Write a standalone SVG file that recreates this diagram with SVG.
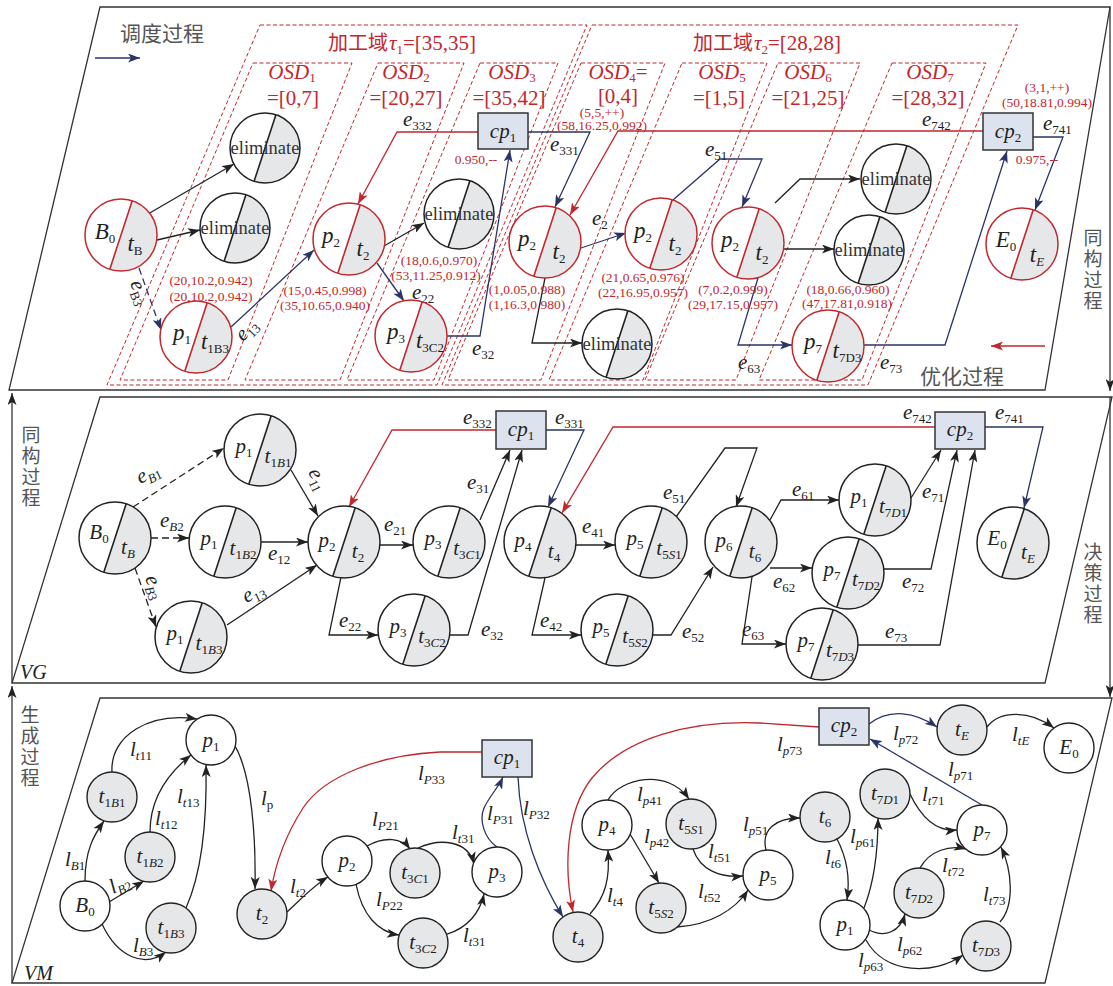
<svg xmlns="http://www.w3.org/2000/svg" width="1113" height="986" viewBox="0 0 1113 986">
<defs>
<style>
.s{font-family:"Liberation Serif","Times New Roman",serif}
.i{font-style:italic}
.cjk{font-family:"Noto Sans CJK SC","Noto Sans CJK JP",sans-serif;fill:#555;font-size:21px}
.cv{font-family:"Noto Sans CJK SC","Noto Sans CJK JP",sans-serif;fill:#555;font-size:19px;writing-mode:vertical-rl;letter-spacing:2px}
.cjkr{font-family:"Noto Sans CJK SC","Noto Sans CJK JP",sans-serif;fill:#c1272d;font-size:20px}
.frame{fill:none;stroke:#333;stroke-width:1.3}
.dash{fill:none;stroke:#c1272d;stroke-width:1;stroke-dasharray:4,2.5}
.k{fill:none;stroke:#222;stroke-width:1.3}
.nv{fill:none;stroke:#2b3467;stroke-width:1.3}
.rd{fill:none;stroke:#c1272d;stroke-width:1.3}
.cp{fill:#dce3ee;stroke:#333;stroke-width:1.5}
.bw{fill:#fff;stroke:#222;stroke-width:1.4}
.bg{fill:#e6e7e8;stroke:#222;stroke-width:1.4}
.rt{font-family:"Liberation Serif","Times New Roman",serif;fill:#c1272d;font-size:13.5px;text-anchor:middle}
.lb{font-family:"Liberation Serif","Times New Roman",serif;fill:#222;font-size:21px}
.nt{font-family:"Liberation Serif","Times New Roman",serif;fill:#222;font-size:21px;text-anchor:middle}
.nb{font-family:"Liberation Serif","Times New Roman",serif;fill:#222;font-size:23px;text-anchor:middle}
.sb{font-size:13px}
.el{font-family:"Liberation Serif","Times New Roman",serif;fill:#333;font-size:18.5px;text-anchor:middle}
.rl{font-family:"Liberation Serif","Times New Roman",serif;fill:#c1272d;font-size:21px;text-anchor:middle}
.dl{font-family:"Liberation Serif","Times New Roman",serif;fill:#c1272d;font-size:21px}
</style>
<marker id="ak" viewBox="0 0 12 9" refX="12" refY="4.5" markerWidth="12" markerHeight="9" markerUnits="userSpaceOnUse" orient="auto"><path d="M0,0 L12,4.5 L0,9 L3,4.5 Z" fill="#222"/></marker>
<marker id="an" viewBox="0 0 12 9" refX="12" refY="4.5" markerWidth="12" markerHeight="9" markerUnits="userSpaceOnUse" orient="auto"><path d="M0,0 L12,4.5 L0,9 L3,4.5 Z" fill="#2b3467"/></marker>
<marker id="ar" viewBox="0 0 12 9" refX="12" refY="4.5" markerWidth="12" markerHeight="9" markerUnits="userSpaceOnUse" orient="auto"><path d="M0,0 L12,4.5 L0,9 L3,4.5 Z" fill="#c1272d"/></marker>
<g id="sk"><circle r="36" fill="#fff"/><path d="M11.2,-34.2A36,36 0 0 1 -11.2,34.2Z" fill="#e6e7e8"/><line x1="11.2" y1="-34.2" x2="-11.2" y2="34.2" stroke="#222" stroke-width="1.6"/><circle r="36" fill="none" stroke="#222" stroke-width="1.5"/></g>
<g id="sr"><circle r="36" fill="#fff"/><path d="M11.2,-34.2A36,36 0 0 1 -11.2,34.2Z" fill="#e6e7e8"/><line x1="11.2" y1="-34.2" x2="-11.2" y2="34.2" stroke="#c1272d" stroke-width="1.6"/><circle r="36" fill="none" stroke="#c1272d" stroke-width="1.5"/></g>
<g id="se"><circle r="35" fill="#fff"/><path d="M10.9,-33.3A35,35 0 0 1 -10.9,33.3Z" fill="#e6e7e8"/><line x1="10.9" y1="-33.3" x2="-10.9" y2="33.3" stroke="#222" stroke-width="1.6"/><circle r="35" fill="none" stroke="#222" stroke-width="1.5"/></g>
</defs>
<rect width="1113" height="986" fill="#fff"/>

<g id="frames">
<path class="frame" d="M100,7 L1110,7 L1045,390 L9,390 Z"/>
<path class="frame" d="M100,397 L1112,397 L1045,683 L12,683 Z"/>
<path class="frame" d="M100,698 L1112,698 L1045,983 L12,983 Z"/>
<line class="frame" x1="12" y1="983" x2="12" y2="686" marker-end="url(#ak)"/>
<line class="frame" x1="12" y1="683" x2="12" y2="393" marker-end="url(#ak)"/>
<line class="frame" x1="1110" y1="7" x2="1110" y2="391" marker-end="url(#ak)"/>
<line class="frame" x1="1110" y1="397" x2="1110" y2="697" marker-end="url(#ak)"/>
</g>

<g id="titles">
<text class="cjk" x="120" y="41">调度过程</text>
<line x1="95" y1="58" x2="140" y2="58" stroke="#2b3467" stroke-width="1.5" marker-end="url(#an)"/>
<text class="cjk" x="920" y="384">优化过程</text>
<line x1="1045" y1="346" x2="991" y2="346" stroke="#c1272d" stroke-width="1.5" marker-end="url(#ar)"/>
<text class="cv" x="1093" y="228">同构过程</text>
<text class="cv" x="31" y="425">同构过程</text>
<text class="cv" x="1093" y="542">决策过程</text>
<text class="cv" x="30" y="705">生成过程</text>
<text class="s i" x="20" y="679" font-size="20" fill="#222">VG</text>
<text class="s i" x="24" y="980" font-size="20" fill="#222">VM</text>
</g>

<g id="domains">
<path class="dash" d="M260,25 L587,25 L437,385 L107,385 Z"/>
<path class="dash" d="M592,25 L1018,25 L868,385 L442,385 Z"/>
<path class="dash" d="M253,63 L352,63 L228,380 L120,380 Z"/>
<path class="dash" d="M378,63 L464,63 L340,380 L245,380 Z"/>
<path class="dash" d="M480,63 L558,63 L434,380 L347,380 Z"/>
<path class="dash" d="M581,63 L665,63 L541,380 L448,380 Z"/>
<path class="dash" d="M682,63 L767,63 L643,380 L549,380 Z"/>
<path class="dash" d="M778,63 L860,63 L736,380 L645,380 Z"/>
<path class="dash" d="M892,63 L986,63 L862,380 L759,380 Z"/>
<text class="cjkr" x="328" y="50">加工域</text>
<text class="dl" x="389" y="50"><tspan class="i">τ</tspan><tspan font-size="13" dy="4">1</tspan><tspan dy="-4">=[35,35]</tspan></text>
<text class="cjkr" x="693" y="50">加工域</text>
<text class="dl" x="754" y="50"><tspan class="i">τ</tspan><tspan font-size="13" dy="4">2</tspan><tspan dy="-4">=[28,28]</tspan></text>
<text class="rl" x="292" y="79"><tspan class="i">OSD</tspan><tspan class="sb" dy="3">1</tspan></text>
<text class="rl" x="293" y="105">=[0,7]</text>
<text class="rl" x="406" y="79"><tspan class="i">OSD</tspan><tspan class="sb" dy="3">2</tspan></text>
<text class="rl" x="406" y="105">=[20,27]</text>
<text class="rl" x="512" y="79"><tspan class="i">OSD</tspan><tspan class="sb" dy="3">3</tspan></text>
<text class="rl" x="509" y="105">=[35,42]</text>
<text class="rl" x="618" y="79"><tspan class="i">OSD</tspan><tspan class="sb" dy="3">4</tspan><tspan dy="-3">=</tspan></text>
<text class="rl" x="618" y="103">[0,4]</text>
<text class="rl" x="722" y="79"><tspan class="i">OSD</tspan><tspan class="sb" dy="3">5</tspan></text>
<text class="rl" x="719" y="105">=[1,5]</text>
<text class="rl" x="808" y="79"><tspan class="i">OSD</tspan><tspan class="sb" dy="3">6</tspan></text>
<text class="rl" x="808" y="105">=[21,25]</text>
<text class="rl" x="930" y="79"><tspan class="i">OSD</tspan><tspan class="sb" dy="3">7</tspan></text>
<text class="rl" x="928" y="105">=[28,32]</text>
</g>

<g id="top-edges">
<path class="k" d="M148,214 L234,164" marker-end="url(#ak)"/>
<path class="k" d="M157,240 L200,230" marker-end="url(#ak)"/>
<path class="nv" stroke-dasharray="7,4" d="M139,268 L161,330" marker-end="url(#an)"/>
<path class="nv" d="M231,327 L314,250" marker-end="url(#an)"/>
<path class="k" d="M384,246 L424,223" marker-end="url(#ak)"/>
<path class="nv" d="M377,263 L404,301" marker-end="url(#an)"/>
<path class="nv" d="M447,336 L480,336 L510,150" marker-end="url(#an)"/>
<path class="nv" d="M528,132 L590,132 L555,207" marker-end="url(#an)"/>
<path class="rd" d="M478,132 L397,132 L358,204" marker-end="url(#ar)"/>
<path class="rd" d="M983,131 L618,131 L570,215" marker-end="url(#ar)"/>
<path class="nv" d="M581,248 L626,233" marker-end="url(#an)"/>
<path class="k" d="M545,278 L532,343 L582,343" marker-end="url(#ak)"/>
<path class="nv" d="M673,200 L720,159 L762,159 L742,207" marker-end="url(#an)"/>
<path class="k" d="M775,203 L800,179 L860,179" marker-end="url(#ak)"/>
<path class="k" d="M783,249 L834,249" marker-end="url(#ak)"/>
<path class="nv" d="M758,278 L738,345 L792,345" marker-end="url(#an)"/>
<path class="nv" d="M863,345 L945,345 L1007,151" marker-end="url(#an)"/>
<path class="nv" d="M1033,137 L1063,137 L1035,210" marker-end="url(#an)"/>
<text class="lb" transform="rotate(70 130 283)" x="130" y="283"><tspan class="i">e</tspan><tspan class="sb" dy="4">B3</tspan></text>
<text class="lb" transform="rotate(-45 243 342)" x="243" y="342"><tspan class="i">e</tspan><tspan class="sb" dy="4">13</tspan></text>
<text class="lb" x="403" y="126"><tspan class="i">e</tspan><tspan class="sb" dy="4">332</tspan></text>
<text class="lb" x="412" y="299"><tspan class="i">e</tspan><tspan class="sb" dy="4">22</tspan></text>
<text class="lb" x="472" y="355"><tspan class="i">e</tspan><tspan class="sb" dy="4">32</tspan></text>
<text class="lb" x="550" y="151"><tspan class="i">e</tspan><tspan class="sb" dy="4">331</tspan></text>
<text class="lb" x="592" y="225"><tspan class="i">e</tspan><tspan class="sb" dy="4">2</tspan></text>
<text class="lb" x="705" y="156"><tspan class="i">e</tspan><tspan class="sb" dy="4">51</tspan></text>
<text class="lb" x="738" y="369"><tspan class="i">e</tspan><tspan class="sb" dy="4">63</tspan></text>
<text class="lb" x="880" y="369"><tspan class="i">e</tspan><tspan class="sb" dy="4">73</tspan></text>
<text class="lb" x="922" y="126"><tspan class="i">e</tspan><tspan class="sb" dy="4">742</tspan></text>
<text class="lb" x="1043" y="130"><tspan class="i">e</tspan><tspan class="sb" dy="4">741</tspan></text>
</g>

<g id="top-nodes">
<g id="t-B0" transform="translate(121,235)"><use href="#sr"/><text class="nb" x="-16" y="4"><tspan class="i">B</tspan><tspan class="sb" dy="4">0</tspan></text><text class="nb" x="14" y="16"><tspan class="i">t</tspan><tspan class="sb" dy="4">B</tspan></text></g>
<g id="t-el1" transform="translate(265,148)"><use href="#se"/><text class="el" y="6">eliminate</text></g>
<g id="t-el2" transform="translate(235,228)"><use href="#se"/><text class="el" y="6">eliminate</text></g>
<g id="t-p1" transform="translate(196,337)"><use href="#sr"/><text class="nb" x="-14" y="3"><tspan class="i">p</tspan><tspan class="sb" dy="4">1</tspan></text><text class="nb" x="19" y="12"><tspan class="i">t</tspan><tspan class="sb" dy="4">1B3</tspan></text></g>
<g id="t-p2a" transform="translate(349,239)"><use href="#sr"/><text class="nb" x="-18" y="4"><tspan class="i">p</tspan><tspan class="sb" dy="4">2</tspan></text><text class="nb" x="14" y="17"><tspan class="i">t</tspan><tspan class="sb" dy="4">2</tspan></text></g>
<g id="t-el3" transform="translate(459,214)"><use href="#se"/><text class="el" y="6">eliminate</text></g>
<g id="t-p3" transform="translate(411,336)"><use href="#sr"/><text class="nb" x="-15" y="3"><tspan class="i">p</tspan><tspan class="sb" dy="4">3</tspan></text><text class="nb" x="19" y="12"><tspan class="i">t</tspan><tspan class="sb" dy="4">3C2</tspan></text></g>
<g id="t-p2b" transform="translate(545,242)"><use href="#sr"/><text class="nb" x="-18" y="4"><tspan class="i">p</tspan><tspan class="sb" dy="4">2</tspan></text><text class="nb" x="14" y="17"><tspan class="i">t</tspan><tspan class="sb" dy="4">2</tspan></text></g>
<g id="t-p2c" transform="translate(661,234)"><use href="#sr"/><text class="nb" x="-18" y="4"><tspan class="i">p</tspan><tspan class="sb" dy="4">2</tspan></text><text class="nb" x="14" y="17"><tspan class="i">t</tspan><tspan class="sb" dy="4">2</tspan></text></g>
<g id="t-el4" transform="translate(617,344)"><use href="#se"/><text class="el" y="6">eliminate</text></g>
<g id="t-p2d" transform="translate(748,243)"><use href="#sr"/><text class="nb" x="-18" y="4"><tspan class="i">p</tspan><tspan class="sb" dy="4">2</tspan></text><text class="nb" x="14" y="17"><tspan class="i">t</tspan><tspan class="sb" dy="4">2</tspan></text></g>
<g id="t-el5" transform="translate(896,179)"><use href="#se"/><text class="el" y="6">eliminate</text></g>
<g id="t-el6" transform="translate(869,250)"><use href="#se"/><text class="el" y="6">eliminate</text></g>
<g id="t-p7" transform="translate(828,346)"><use href="#sr"/><text class="nb" x="-15" y="3"><tspan class="i">p</tspan><tspan class="sb" dy="4">7</tspan></text><text class="nb" x="19" y="12"><tspan class="i">t</tspan><tspan class="sb" dy="4">7D3</tspan></text></g>
<g id="t-E0" transform="translate(1022,244)"><use href="#sr"/><text class="nb" x="-16" y="3"><tspan class="i">E</tspan><tspan class="sb" dy="4">0</tspan></text><text class="nb" x="15" y="18"><tspan class="i">t</tspan><tspan class="sb i" dy="4">E</tspan></text></g>
<g id="t-cp1"><rect class="cp" x="478" y="113" width="50" height="36"/><text class="nt" x="503" y="138"><tspan class="i">cp</tspan><tspan class="sb" dy="4">1</tspan></text></g>
<g id="t-cp2"><rect class="cp" x="983" y="113" width="50" height="37"/><text class="nt" x="1008" y="138"><tspan class="i">cp</tspan><tspan class="sb" dy="4">2</tspan></text></g>
</g>

<g id="top-values">
<text class="rt" x="602" y="117">(5,5,++)</text>
<text class="rt" x="602" y="129.5">(58,16.25,0.992)</text>
<text class="rt" x="476" y="164">0.950,--</text>
<text class="rt" x="1047" y="92">(3,1,++)</text>
<text class="rt" x="1047" y="107">(50,18.81,0.994)</text>
<text class="rt" x="1037" y="164">0.975,--</text>
<text class="rt" x="211" y="285">(20,10.2,0.942)</text>
<text class="rt" x="211" y="301">(20,10.2,0.942)</text>
<text class="rt" x="325" y="295">(15,0.45,0.998)</text>
<text class="rt" x="325" y="310">(35,10.65,0.940)</text>
<text class="rt" x="439" y="265">(18,0.6,0.970)</text>
<text class="rt" x="436" y="280">(53,11.25,0.912)</text>
<text class="rt" x="527" y="294">(1,0.05,0.988)</text>
<text class="rt" x="527" y="309">(1,16.3,0.980)</text>
<text class="rt" x="643" y="282">(21,0.65,0.976)</text>
<text class="rt" x="643" y="297">(22,16.95,0.957)</text>
<text class="rt" x="733" y="294">(7,0.2,0.999)</text>
<text class="rt" x="733" y="309">(29,17.15,0.957)</text>
<text class="rt" x="848" y="294">(18,0.66,0.960)</text>
<text class="rt" x="847" y="308">(47,17.81,0.918)</text>
</g>

<g id="mid-edges">
<path class="k" stroke-dasharray="7,4" d="M133,507 L224,448" marker-end="url(#ak)"/>
<path class="k" stroke-dasharray="7,4" d="M151,538 L189,538" marker-end="url(#ak)"/>
<path class="k" stroke-dasharray="7,4" d="M135,568 L156,627" marker-end="url(#ak)"/>
<path class="k" d="M291,470 L318,516" marker-end="url(#ak)"/>
<path class="k" d="M261,542 L308,542" marker-end="url(#ak)"/>
<path class="k" d="M227,625 L317,565" marker-end="url(#ak)"/>
<path class="k" d="M380,545 L413,545" marker-end="url(#ak)"/>
<path class="k" d="M341,577 L329,635 L378,635" marker-end="url(#ak)"/>
<path class="k" d="M480,520 L510,450" marker-end="url(#ak)"/>
<path class="k" d="M450,635 L468,635 L522,450" marker-end="url(#ak)"/>
<path class="rd" d="M496,430 L392,430 L349,507" marker-end="url(#ar)"/>
<path class="nv" d="M546,430 L584,430 L548,507" marker-end="url(#an)"/>
<path class="rd" d="M935,427 L613,427 L562,513" marker-end="url(#ar)"/>
<path class="nv" d="M985,427 L1043,427 L1024,508" marker-end="url(#an)"/>
<path class="k" d="M576,545 L615,545" marker-end="url(#ak)"/>
<path class="k" d="M545,578 L532,635 L581,635" marker-end="url(#ak)"/>
<path class="k" d="M676,517 L725,448 L757,448 L736,507" marker-end="url(#ak)"/>
<path class="k" d="M652,635 L671,635 L713,567" marker-end="url(#ak)"/>
<path class="k" d="M770,520 L781,500 L839,500" marker-end="url(#ak)"/>
<path class="k" d="M770,568 L812,568" marker-end="url(#ak)"/>
<path class="k" d="M752,577 L742,644 L786,644" marker-end="url(#ak)"/>
<path class="k" d="M911,498 L941,450" marker-end="url(#ak)"/>
<path class="k" d="M883,569 L931,569 L957,450" marker-end="url(#ak)"/>
<path class="k" d="M857,645 L940,645 L975,450" marker-end="url(#ak)"/>
<text class="lb" transform="rotate(-25 140 484)" x="140" y="484"><tspan class="i">e</tspan><tspan class="sb i" dy="4">B</tspan><tspan class="sb">1</tspan></text>
<text class="lb" x="160" y="527"><tspan class="i">e</tspan><tspan class="sb i" dy="4">B</tspan><tspan class="sb">2</tspan></text>
<text class="lb" transform="rotate(70 145 578)" x="145" y="578"><tspan class="i">e</tspan><tspan class="sb i" dy="4">B</tspan><tspan class="sb">3</tspan></text>
<text class="lb" transform="rotate(65 308 472)" x="308" y="472"><tspan class="i">e</tspan><tspan class="sb" dy="4">11</tspan></text>
<text class="lb" x="268" y="560"><tspan class="i">e</tspan><tspan class="sb" dy="4">12</tspan></text>
<text class="lb" transform="rotate(-25 246 603)" x="246" y="603"><tspan class="i">e</tspan><tspan class="sb" dy="4">13</tspan></text>
<text class="lb" x="384" y="531"><tspan class="i">e</tspan><tspan class="sb" dy="4">21</tspan></text>
<text class="lb" x="339" y="627"><tspan class="i">e</tspan><tspan class="sb" dy="4">22</tspan></text>
<text class="lb" x="467" y="489"><tspan class="i">e</tspan><tspan class="sb" dy="4">31</tspan></text>
<text class="lb" x="481" y="636"><tspan class="i">e</tspan><tspan class="sb" dy="4">32</tspan></text>
<text class="lb" x="463" y="424"><tspan class="i">e</tspan><tspan class="sb" dy="4">332</tspan></text>
<text class="lb" x="555" y="424"><tspan class="i">e</tspan><tspan class="sb" dy="4">331</tspan></text>
<text class="lb" x="903" y="419"><tspan class="i">e</tspan><tspan class="sb" dy="4">742</tspan></text>
<text class="lb" x="995" y="419"><tspan class="i">e</tspan><tspan class="sb" dy="4">741</tspan></text>
<text class="lb" x="582" y="533"><tspan class="i">e</tspan><tspan class="sb" dy="4">41</tspan></text>
<text class="lb" x="540" y="627"><tspan class="i">e</tspan><tspan class="sb" dy="4">42</tspan></text>
<text class="lb" x="663" y="499"><tspan class="i">e</tspan><tspan class="sb" dy="4">51</tspan></text>
<text class="lb" x="682" y="638"><tspan class="i">e</tspan><tspan class="sb" dy="4">52</tspan></text>
<text class="lb" x="792" y="496"><tspan class="i">e</tspan><tspan class="sb" dy="4">61</tspan></text>
<text class="lb" x="773" y="588"><tspan class="i">e</tspan><tspan class="sb" dy="4">62</tspan></text>
<text class="lb" x="742" y="636"><tspan class="i">e</tspan><tspan class="sb" dy="4">63</tspan></text>
<text class="lb" x="922" y="498"><tspan class="i">e</tspan><tspan class="sb" dy="4">71</tspan></text>
<text class="lb" x="902" y="588"><tspan class="i">e</tspan><tspan class="sb" dy="4">72</tspan></text>
<text class="lb" x="885" y="638"><tspan class="i">e</tspan><tspan class="sb" dy="4">73</tspan></text>
</g>

<g id="mid-nodes">
<g id="m-B0" transform="translate(115,538)"><use href="#sk"/><text class="nt" x="-16" y="1"><tspan class="i">B</tspan><tspan class="sb" dy="4">0</tspan></text><text class="nt" x="13" y="16"><tspan class="i">t</tspan><tspan class="sb i" dy="4">B</tspan></text></g>
<g id="m-t1B1" transform="translate(260,450)"><use href="#sk"/><text class="nt" x="-16" y="3"><tspan class="i">p</tspan><tspan class="sb" dy="4">1</tspan></text><text class="nt" x="18" y="13"><tspan class="i">t</tspan><tspan class="sb" dy="4">1</tspan><tspan class="sb i">B</tspan><tspan class="sb">1</tspan></text></g>
<g id="m-t1B2" transform="translate(225,542)"><use href="#sk"/><text class="nt" x="-16" y="3"><tspan class="i">p</tspan><tspan class="sb" dy="4">1</tspan></text><text class="nt" x="18" y="13"><tspan class="i">t</tspan><tspan class="sb" dy="4">1</tspan><tspan class="sb i">B</tspan><tspan class="sb">2</tspan></text></g>
<g id="m-t1B3" transform="translate(191,637)"><use href="#sk"/><text class="nt" x="-16" y="3"><tspan class="i">p</tspan><tspan class="sb" dy="4">1</tspan></text><text class="nt" x="18" y="13"><tspan class="i">t</tspan><tspan class="sb" dy="4">1</tspan><tspan class="sb i">B</tspan><tspan class="sb">3</tspan></text></g>
<g id="m-p2" transform="translate(344,542)"><use href="#sk"/><text class="nt" x="-17" y="5"><tspan class="i">p</tspan><tspan class="sb" dy="4">2</tspan></text><text class="nt" x="14" y="16"><tspan class="i">t</tspan><tspan class="sb" dy="4">2</tspan></text></g>
<g id="m-t3C1" transform="translate(449,542)"><use href="#sk"/><text class="nt" x="-16" y="3"><tspan class="i">p</tspan><tspan class="sb" dy="4">3</tspan></text><text class="nt" x="18" y="13"><tspan class="i">t</tspan><tspan class="sb" dy="4">3</tspan><tspan class="sb i">C</tspan><tspan class="sb">1</tspan></text></g>
<g id="m-t3C2" transform="translate(414,630)"><use href="#sk"/><text class="nt" x="-16" y="3"><tspan class="i">p</tspan><tspan class="sb" dy="4">3</tspan></text><text class="nt" x="18" y="13"><tspan class="i">t</tspan><tspan class="sb" dy="4">3</tspan><tspan class="sb i">C</tspan><tspan class="sb">2</tspan></text></g>
<g id="m-p4" transform="translate(540,542)"><use href="#sk"/><text class="nt" x="-17" y="5"><tspan class="i">p</tspan><tspan class="sb" dy="4">4</tspan></text><text class="nt" x="14" y="16"><tspan class="i">t</tspan><tspan class="sb" dy="4">4</tspan></text></g>
<g id="m-t5S1" transform="translate(651,542)"><use href="#sk"/><text class="nt" x="-16" y="3"><tspan class="i">p</tspan><tspan class="sb" dy="4">5</tspan></text><text class="nt" x="18" y="13"><tspan class="i">t</tspan><tspan class="sb" dy="4">5</tspan><tspan class="sb i">S</tspan><tspan class="sb">1</tspan></text></g>
<g id="m-t5S2" transform="translate(617,630)"><use href="#sk"/><text class="nt" x="-16" y="3"><tspan class="i">p</tspan><tspan class="sb" dy="4">5</tspan></text><text class="nt" x="18" y="13"><tspan class="i">t</tspan><tspan class="sb" dy="4">5</tspan><tspan class="sb i">S</tspan><tspan class="sb">2</tspan></text></g>
<g id="m-p6" transform="translate(741,542)"><use href="#sk"/><text class="nt" x="-17" y="5"><tspan class="i">p</tspan><tspan class="sb" dy="4">6</tspan></text><text class="nt" x="14" y="16"><tspan class="i">t</tspan><tspan class="sb" dy="4">6</tspan></text></g>
<g id="m-t7D1" transform="translate(875,500)"><use href="#sk"/><text class="nt" x="-16" y="3"><tspan class="i">p</tspan><tspan class="sb" dy="4">1</tspan></text><text class="nt" x="18" y="13"><tspan class="i">t</tspan><tspan class="sb" dy="4">7</tspan><tspan class="sb i">D</tspan><tspan class="sb">1</tspan></text></g>
<g id="m-t7D2" transform="translate(848,573)"><use href="#sk"/><text class="nt" x="-16" y="3"><tspan class="i">p</tspan><tspan class="sb" dy="4">7</tspan></text><text class="nt" x="18" y="13"><tspan class="i">t</tspan><tspan class="sb" dy="4">7</tspan><tspan class="sb i">D</tspan><tspan class="sb">2</tspan></text></g>
<g id="m-t7D3" transform="translate(822,644)"><use href="#sk"/><text class="nt" x="-16" y="3"><tspan class="i">p</tspan><tspan class="sb" dy="4">7</tspan></text><text class="nt" x="18" y="13"><tspan class="i">t</tspan><tspan class="sb" dy="4">7</tspan><tspan class="sb i">D</tspan><tspan class="sb">3</tspan></text></g>
<g id="m-E0" transform="translate(1013,543)"><use href="#sk"/><text class="nt" x="-16" y="2"><tspan class="i">E</tspan><tspan class="sb" dy="4">0</tspan></text><text class="nt" x="15" y="16"><tspan class="i">t</tspan><tspan class="sb i" dy="4">E</tspan></text></g>
<g id="m-cp1"><rect class="cp" x="496" y="411" width="50" height="38"/><text class="nt" x="521" y="436"><tspan class="i">cp</tspan><tspan class="sb" dy="4">1</tspan></text></g>
<g id="m-cp2"><rect class="cp" x="935" y="412" width="50" height="37"/><text class="nt" x="960" y="436"><tspan class="i">cp</tspan><tspan class="sb" dy="4">2</tspan></text></g>
</g>

<g id="bot-edges">
<path class="k" d="M85,881 C85,850 94,835 104,821" marker-end="url(#ak)"/>
<path class="k" d="M109,902 L144,881" marker-end="url(#ak)"/>
<path class="k" d="M102,924 C118,958 145,968 166,952" marker-end="url(#ak)"/>
<path class="k" d="M112,772 C110,735 150,712 197,719" marker-end="url(#ak)"/>
<path class="k" d="M150,832 C150,800 166,775 191,755" marker-end="url(#ak)"/>
<path class="k" d="M186,908 C203,870 207,820 206,765" marker-end="url(#ak)"/>
<path class="k" d="M235,746 C252,775 256,840 255,889" marker-end="url(#ak)"/>
<path class="k" d="M287,912 C300,900 313,886 328,877" marker-end="url(#ak)"/>
<path class="rd" d="M482,752 L440,752 C380,755 325,775 303,808 C287,833 276,860 271,891" marker-end="url(#ar)"/>
<path class="k" d="M367,846 C385,836 402,838 410,849" marker-end="url(#ak)"/>
<path class="k" d="M356,884 C362,915 378,932 399,935" marker-end="url(#ak)"/>
<path class="k" d="M418,848 C440,838 468,840 474,864" marker-end="url(#ak)"/>
<path class="k" d="M447,934 C468,928 480,912 484,894" marker-end="url(#ak)"/>
<path class="nv" d="M497,847 C484,838 479,820 484,808 C489,797 498,788 503,777" marker-end="url(#an)"/>
<path class="nv" d="M518,777 C520,830 540,880 563,917" marker-end="url(#an)"/>
<path class="rd" d="M819,727 L760,723 C690,720 625,738 592,778 C565,812 564,870 573,912" marker-end="url(#ar)"/>
<path class="k" d="M590,914 C606,896 610,878 608,850" marker-end="url(#ak)"/>
<path class="k" d="M608,800 C620,778 668,768 689,799" marker-end="url(#ak)"/>
<path class="k" d="M630,834 L659,883" marker-end="url(#ak)"/>
<path class="k" d="M693,849 C700,870 720,878 743,876" marker-end="url(#ak)"/>
<path class="k" d="M677,927 C710,925 735,910 748,890" marker-end="url(#ak)"/>
<path class="k" d="M766,850 C761,830 775,818 800,818" marker-end="url(#ak)"/>
<path class="k" d="M837,839 C848,860 850,880 847,900" marker-end="url(#ak)"/>
<path class="k" d="M864,908 C875,880 878,850 878,818" marker-end="url(#ak)"/>
<path class="k" d="M869,930 C885,938 900,932 905,914" marker-end="url(#ak)"/>
<path class="k" d="M866,940 C885,975 935,975 963,955" marker-end="url(#ak)"/>
<path class="k" d="M910,794 C920,815 935,832 957,830" marker-end="url(#ak)"/>
<path class="k" d="M920,868 C930,850 950,845 966,849" marker-end="url(#ak)"/>
<path class="k" d="M1000,922 C1015,905 1012,870 1001,847" marker-end="url(#ak)"/>
<path class="nv" d="M982,805 L870,739" marker-end="url(#an)"/>
<path class="nv" d="M869,724 C890,708 915,712 937,727" marker-end="url(#an)"/>
<path class="k" d="M987,727 C1000,710 1030,710 1054,728" marker-end="url(#ak)"/>
<text class="lb" x="65" y="866"><tspan class="i">l</tspan><tspan class="sb i" dy="4">B</tspan><tspan class="sb">1</tspan></text>
<text class="lb" transform="rotate(-25 113 894)" x="113" y="894"><tspan class="i">l</tspan><tspan class="sb i" dy="4">B</tspan><tspan class="sb">2</tspan></text>
<text class="lb" x="133" y="952"><tspan class="i">l</tspan><tspan class="sb i" dy="4">B</tspan><tspan class="sb">3</tspan></text>
<text class="lb" x="130" y="756"><tspan class="i">l</tspan><tspan class="sb i" dy="4">t</tspan><tspan class="sb">11</tspan></text>
<text class="lb" x="155" y="825"><tspan class="i">l</tspan><tspan class="sb i" dy="4">t</tspan><tspan class="sb">12</tspan></text>
<text class="lb" x="177" y="803"><tspan class="i">l</tspan><tspan class="sb i" dy="4">t</tspan><tspan class="sb">13</tspan></text>
<text class="lb" x="261" y="805"><tspan class="i">l</tspan><tspan class="sb" dy="4">p</tspan></text>
<text class="lb" x="290" y="893"><tspan class="i">l</tspan><tspan class="sb i" dy="4">t</tspan><tspan class="sb">2</tspan></text>
<text class="lb" x="418" y="780"><tspan class="i">l</tspan><tspan class="sb i" dy="4">P</tspan><tspan class="sb">33</tspan></text>
<text class="lb" x="372" y="826"><tspan class="i">l</tspan><tspan class="sb i" dy="4">P</tspan><tspan class="sb">21</tspan></text>
<text class="lb" x="376" y="906"><tspan class="i">l</tspan><tspan class="sb i" dy="4">P</tspan><tspan class="sb">22</tspan></text>
<text class="lb" x="452" y="839"><tspan class="i">l</tspan><tspan class="sb i" dy="4">t</tspan><tspan class="sb">31</tspan></text>
<text class="lb" x="463" y="942"><tspan class="i">l</tspan><tspan class="sb i" dy="4">t</tspan><tspan class="sb">31</tspan></text>
<text class="lb" x="487" y="820"><tspan class="i">l</tspan><tspan class="sb i" dy="4">P</tspan><tspan class="sb">31</tspan></text>
<text class="lb" x="523" y="815"><tspan class="i">l</tspan><tspan class="sb i" dy="4">P</tspan><tspan class="sb">32</tspan></text>
<text class="lb" x="777" y="751"><tspan class="i">l</tspan><tspan class="sb i" dy="4">p</tspan><tspan class="sb">73</tspan></text>
<text class="lb" x="607" y="902"><tspan class="i">l</tspan><tspan class="sb i" dy="4">t</tspan><tspan class="sb">4</tspan></text>
<text class="lb" x="637" y="801"><tspan class="i">l</tspan><tspan class="sb i" dy="4">p</tspan><tspan class="sb">41</tspan></text>
<text class="lb" x="644" y="843"><tspan class="i">l</tspan><tspan class="sb i" dy="4">p</tspan><tspan class="sb">42</tspan></text>
<text class="lb" x="708" y="858"><tspan class="i">l</tspan><tspan class="sb i" dy="4">t</tspan><tspan class="sb">51</tspan></text>
<text class="lb" x="698" y="898"><tspan class="i">l</tspan><tspan class="sb i" dy="4">t</tspan><tspan class="sb">52</tspan></text>
<text class="lb" x="743" y="831"><tspan class="i">l</tspan><tspan class="sb i" dy="4">p</tspan><tspan class="sb">51</tspan></text>
<text class="lb" x="825" y="864"><tspan class="i">l</tspan><tspan class="sb i" dy="4">t</tspan><tspan class="sb">6</tspan></text>
<text class="lb" x="850" y="843"><tspan class="i">l</tspan><tspan class="sb i" dy="4">p</tspan><tspan class="sb">61</tspan></text>
<text class="lb" x="897" y="951"><tspan class="i">l</tspan><tspan class="sb i" dy="4">p</tspan><tspan class="sb">62</tspan></text>
<text class="lb" x="858" y="967"><tspan class="i">l</tspan><tspan class="sb i" dy="4">p</tspan><tspan class="sb">63</tspan></text>
<text class="lb" x="922" y="801"><tspan class="i">l</tspan><tspan class="sb i" dy="4">t</tspan><tspan class="sb">71</tspan></text>
<text class="lb" x="942" y="872"><tspan class="i">l</tspan><tspan class="sb i" dy="4">t</tspan><tspan class="sb">72</tspan></text>
<text class="lb" x="983" y="901"><tspan class="i">l</tspan><tspan class="sb i" dy="4">t</tspan><tspan class="sb">73</tspan></text>
<text class="lb" x="948" y="776"><tspan class="i">l</tspan><tspan class="sb i" dy="4">p</tspan><tspan class="sb">71</tspan></text>
<text class="lb" x="893" y="740"><tspan class="i">l</tspan><tspan class="sb i" dy="4">p</tspan><tspan class="sb">72</tspan></text>
<text class="lb" x="1012" y="741"><tspan class="i">l</tspan><tspan class="sb i" dy="4">tE</tspan></text>
</g>

<g id="bot-nodes">
<g id="b-p1"><circle class="bw" cx="211" cy="740" r="25"/><text class="nt" x="211" y="747"><tspan class="i">p</tspan><tspan class="sb" dy="4">1</tspan></text></g>
<g id="b-t1B1"><circle class="bg" cx="112" cy="797" r="25"/><text class="nt" x="112" y="803"><tspan class="i">t</tspan><tspan class="sb" dy="4">1</tspan><tspan class="sb i">B</tspan><tspan class="sb">1</tspan></text></g>
<g id="b-t1B2"><circle class="bg" cx="150" cy="857" r="25"/><text class="nt" x="150" y="863"><tspan class="i">t</tspan><tspan class="sb" dy="4">1</tspan><tspan class="sb i">B</tspan><tspan class="sb">2</tspan></text></g>
<g id="b-t1B3"><circle class="bg" cx="171" cy="928" r="25"/><text class="nt" x="171" y="934"><tspan class="i">t</tspan><tspan class="sb" dy="4">1</tspan><tspan class="sb i">B</tspan><tspan class="sb">3</tspan></text></g>
<g id="b-B0"><circle class="bw" cx="85" cy="906" r="25"/><text class="nt" x="85" y="912"><tspan class="i">B</tspan><tspan class="sb" dy="4">0</tspan></text></g>
<g id="b-t2"><circle class="bg" cx="262" cy="914" r="25"/><text class="nt" x="262" y="920"><tspan class="i">t</tspan><tspan class="sb" dy="4">2</tspan></text></g>
<g id="b-p2"><circle class="bw" cx="347" cy="861" r="25"/><text class="nt" x="347" y="867"><tspan class="i">p</tspan><tspan class="sb" dy="4">2</tspan></text></g>
<g id="b-t3C1"><circle class="bg" cx="415" cy="873" r="25"/><text class="nt" x="415" y="879"><tspan class="i">t</tspan><tspan class="sb" dy="4">3</tspan><tspan class="sb i">C</tspan><tspan class="sb">1</tspan></text></g>
<g id="b-t3C2"><circle class="bg" cx="423" cy="943" r="25"/><text class="nt" x="423" y="949"><tspan class="i">t</tspan><tspan class="sb" dy="4">3</tspan><tspan class="sb i">C</tspan><tspan class="sb">2</tspan></text></g>
<g id="b-p3"><circle class="bw" cx="497" cy="872" r="25"/><text class="nt" x="497" y="878"><tspan class="i">p</tspan><tspan class="sb" dy="4">3</tspan></text></g>
<g id="b-t4"><circle class="bg" cx="578" cy="937" r="25"/><text class="nt" x="578" y="943"><tspan class="i">t</tspan><tspan class="sb" dy="4">4</tspan></text></g>
<g id="b-p4"><circle class="bw" cx="607" cy="825" r="25"/><text class="nt" x="607" y="831"><tspan class="i">p</tspan><tspan class="sb" dy="4">4</tspan></text></g>
<g id="b-t5S1"><circle class="bg" cx="691" cy="824" r="25"/><text class="nt" x="691" y="830"><tspan class="i">t</tspan><tspan class="sb" dy="4">5</tspan><tspan class="sb i">S</tspan><tspan class="sb">1</tspan></text></g>
<g id="b-t5S2"><circle class="bg" cx="661" cy="908" r="25"/><text class="nt" x="661" y="914"><tspan class="i">t</tspan><tspan class="sb" dy="4">5</tspan><tspan class="sb i">S</tspan><tspan class="sb">2</tspan></text></g>
<g id="b-p5"><circle class="bw" cx="768" cy="875" r="25"/><text class="nt" x="768" y="881"><tspan class="i">p</tspan><tspan class="sb" dy="4">5</tspan></text></g>
<g id="b-t6"><circle class="bg" cx="825" cy="817" r="25"/><text class="nt" x="825" y="823"><tspan class="i">t</tspan><tspan class="sb" dy="4">6</tspan></text></g>
<g id="b-t7D1"><circle class="bg" cx="885" cy="794" r="25"/><text class="nt" x="885" y="800"><tspan class="i">t</tspan><tspan class="sb" dy="4">7</tspan><tspan class="sb i">D</tspan><tspan class="sb">1</tspan></text></g>
<g id="b-p7"><circle class="bw" cx="982" cy="830" r="25"/><text class="nt" x="982" y="836"><tspan class="i">p</tspan><tspan class="sb" dy="4">7</tspan></text></g>
<g id="b-t7D2"><circle class="bg" cx="919" cy="893" r="25"/><text class="nt" x="919" y="899"><tspan class="i">t</tspan><tspan class="sb" dy="4">7</tspan><tspan class="sb i">D</tspan><tspan class="sb">2</tspan></text></g>
<g id="b-p1b"><circle class="bw" cx="845" cy="925" r="25"/><text class="nt" x="845" y="931"><tspan class="i">p</tspan><tspan class="sb" dy="4">1</tspan></text></g>
<g id="b-t7D3"><circle class="bg" cx="986" cy="946" r="25"/><text class="nt" x="986" y="952"><tspan class="i">t</tspan><tspan class="sb" dy="4">7</tspan><tspan class="sb i">D</tspan><tspan class="sb">3</tspan></text></g>
<g id="b-tE"><circle class="bg" cx="962" cy="730" r="25"/><text class="nt" x="962" y="736"><tspan class="i">t</tspan><tspan class="sb i" dy="4">E</tspan></text></g>
<g id="b-E0"><circle class="bw" cx="1069" cy="748" r="25"/><text class="nt" x="1069" y="754"><tspan class="i">E</tspan><tspan class="sb" dy="4">0</tspan></text></g>
<g id="b-cp1"><rect class="cp" x="482" y="740" width="50" height="37"/><text class="nt" x="507" y="764"><tspan class="i">cp</tspan><tspan class="sb" dy="4">1</tspan></text></g>
<g id="b-cp2"><rect class="cp" x="819" y="708" width="50" height="37"/><text class="nt" x="844" y="732"><tspan class="i">cp</tspan><tspan class="sb" dy="4">2</tspan></text></g>
</g>
</svg>
